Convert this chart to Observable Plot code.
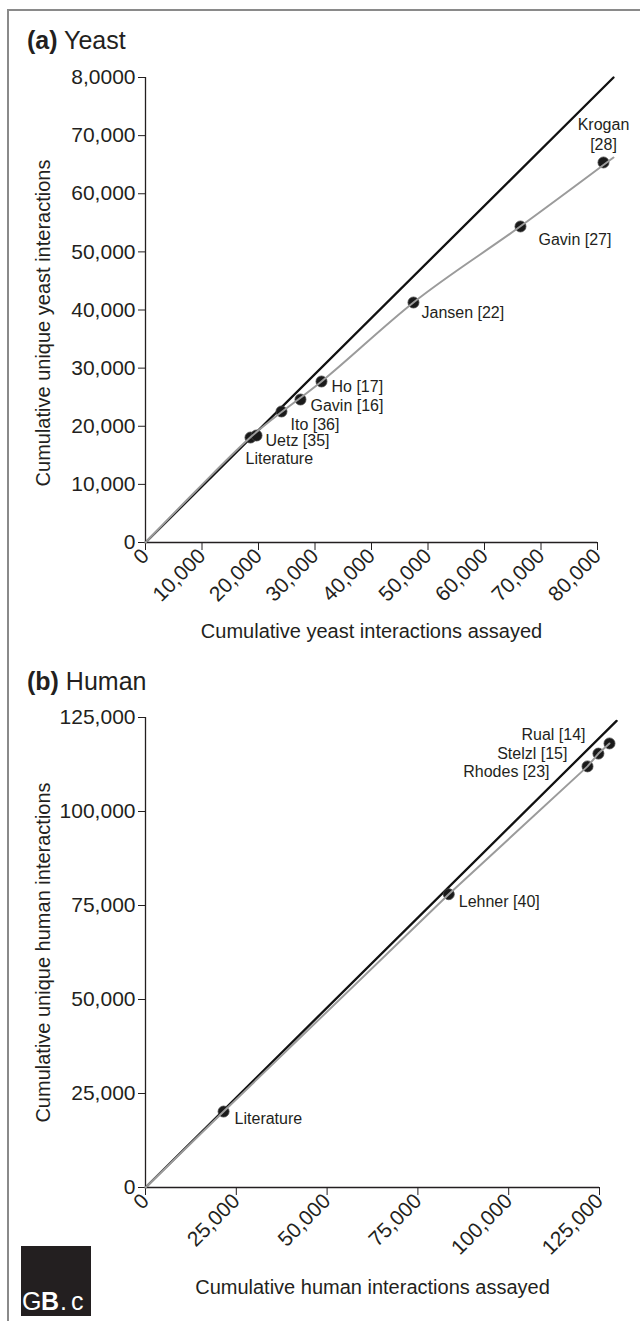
<!DOCTYPE html>
<html><head><meta charset="utf-8">
<script src="https://cdn.jsdelivr.net/npm/d3@7"></script>
<script src="https://cdn.jsdelivr.net/npm/@observablehq/plot@0.6"></script>
<style>
body{margin:0;background:#fff;font-family:"Liberation Sans",Arial,Helvetica,sans-serif;}
#wrap{position:relative;width:640px;height:1321px;overflow:hidden;background:#fff;}
.frameL{position:absolute;left:7px;top:9px;width:2px;height:1320px;background:#8a8a8a}
.frameT{position:absolute;left:7px;top:9px;width:640px;height:2px;background:#8a8a8a}
.title{position:absolute;left:27px;font-size:25px;color:#231f20;line-height:1;white-space:nowrap}
.panel{position:absolute;left:0}
.logo{position:absolute;left:21px;top:1246px;width:70px;height:70px;background:#231f20;overflow:hidden;color:#fff;font-size:25px;line-height:1}
.logo span{position:absolute;bottom:2px;white-space:nowrap}
</style></head><body>
<div id="wrap">
  <div class="frameL"></div><div class="frameT"></div>
  <div class="title" style="top:28px"><b>(a)</b> Yeast</div>
  <div class="title" style="top:669px"><b>(b)</b> Human</div>
  <div class="panel" id="yeast" style="top:0"></div>
  <div class="panel" id="human" style="top:660px"></div>
  <div class="logo"><span style="left:1px">G</span><span style="left:20px;font-weight:bold">B</span><span style="left:39px">.</span><span style="left:50px">c</span></div>
</div>
<script>
// ---------- data ----------
const yeastStudies  = ["Literature","Uetz [35]","Ito [36]","Gavin [16]","Ho [17]","Jansen [22]","Gavin [27]","Krogan\n[28]"];
const yeastAssayed  = [18580, 19650, 24070, 27430, 31150, 47430, 66370, 81060];
const yeastUnique   = [18060, 18410, 22540, 24600, 27700, 41290, 54370, 65380];
const yeastFitAssayed = [0, 9000, 18580, 31150, 47430, 66370, 82830];
const yeastFitUnique  = [0, 8950, 18100, 27700, 41300, 54400, 66240];
const yeastDiagAssayed = [0, 82830];
const yeastDiagUnique  = [0, 80000];
const yeastXTicks = [0,10000,20000,30000,40000,50000,60000,70000,80000];
const yeastXTickLabels = ["0","10,000","20,000","30,000","40,000","50,000","60,000","70,000","80,000"];
const yeastYTicks = [0,10000,20000,30000,40000,50000,60000,70000,80000];
const yeastYTickLabels = ["0","10,000","20,000","30,000","40,000","50,000","60,000","70,000","8,0000"];

const humanStudies  = ["Literature","Lehner [40]","Rhodes [23]","Stelzl [15]","Rual [14]"];
const humanAssayed  = [21500, 83500, 121700, 124700, 127750];
const humanUnique   = [20200, 78000, 112000, 115400, 118100];
const humanFitAssayed = [0, 21500, 83500, 121700, 124700, 127750];
const humanFitUnique  = [0, 20200, 78000, 112000, 115400, 118100];
const humanDiagAssayed = [0, 129700];
const humanDiagUnique  = [0, 124100];
const humanXTicks = [0,25000,50000,75000,100000,125000];
const humanXTickLabels = ["0","25,000","50,000","75,000","100,000","125,000"];
const humanYTicks = [0,25000,50000,75000,100000,125000];
const humanYTickLabels = ["0","25,000","50,000","75,000","100,000","125,000"];

// ---------- layout / style ----------
const INK = "#231f20";
const FONT = '"Liberation Sans", Arial, Helvetica, sans-serif';
const yeastLabelPos = {
  "Literature": {a:"start", dx:-5, dy:20},
  "Uetz [35]": {a:"start", dx:9, dy:4},
  "Ito [36]": {a:"start", dx:9, dy:12},
  "Gavin [16]": {a:"start", dx:10, dy:5},
  "Ho [17]": {a:"start", dx:10, dy:4},
  "Jansen [22]": {a:"start", dx:8, dy:9},
  "Gavin [27]": {a:"start", dx:18, dy:12},
  "Krogan\n[28]": {a:"middle", dx:0, dy:-12, la:"bottom"}
};
const humanLabelPos = {
  "Literature": {a:"start", dx:11, dy:6},
  "Lehner [40]": {a:"start", dx:10, dy:6},
  "Rhodes [23]": {a:"end", dx:-38, dy:4},
  "Stelzl [15]": {a:"end", dx:-31, dy:-1},
  "Rual [14]": {a:"end", dx:-24, dy:-10}
};

function panel(cfg) {
  const idx = a => a.map((_, i) => i);
  const labelMarks = idx(cfg.studies).map(i => {
    const p = cfg.labelPos[cfg.studies[i]];
    return Plot.text([i], {
      x: j => cfg.assayed[j], y: j => cfg.unique[j], text: j => cfg.studies[j],
      textAnchor: p.a, lineAnchor: p.la || "middle", dx: p.dx, dy: p.dy,
      fontSize: 16, lineHeight: 1.25, fill: INK
    });
  });
  return Plot.plot({
    width: 640, height: cfg.height,
    marginLeft: 145, marginRight: cfg.marginRight, marginTop: cfg.marginTop, marginBottom: cfg.marginBottom,
    x: {domain: [0, cfg.max]},
    y: {domain: [0, cfg.max]},
    style: {fontFamily: FONT, color: INK, background: "transparent", overflow: "visible"},
    marks: [
      Plot.axisY({ticks: cfg.yTicks, tickFormat: d => cfg.yLabels[cfg.yTicks.indexOf(d)], tickSize: 7, tickPadding: 3, fontSize: 21, label: null, stroke: INK}),
      Plot.axisX({ticks: cfg.xTicks, tickFormat: d => cfg.xLabels[cfg.xTicks.indexOf(d)], tickSize: 8, tickPadding: 2, tickRotate: -45, fontSize: 21, label: null, stroke: INK}),
      Plot.ruleX([0], {stroke: INK, strokeWidth: 1.3}),
      Plot.ruleY([0], {stroke: INK, strokeWidth: 1.3}),
      Plot.line(idx(cfg.diagX), {x: i => cfg.diagX[i], y: i => cfg.diagY[i], stroke: "#111", strokeWidth: 2.3}),
      Plot.dot(idx(cfg.studies), {x: i => cfg.assayed[i], y: i => cfg.unique[i], r: 5.5, fill: "#1a1a1a", stroke: "#444", strokeWidth: 0.8}),
      Plot.line(idx(cfg.fitX), {x: i => cfg.fitX[i], y: i => cfg.fitY[i], stroke: "#9b9b9b", strokeWidth: 2, curve: cfg.curve}),
      ...labelMarks,
      Plot.text([cfg.xTitle], {frameAnchor: "bottom", dy: cfg.xTitleDy, lineAnchor: "middle", textAnchor: "middle", fontSize: 20, fill: INK}),
      Plot.text([cfg.yTitle], {frameAnchor: "left", rotate: -90, dx: -102, dy: cfg.yTitleDy, lineAnchor: "middle", textAnchor: "middle", fontSize: 20, fill: INK})
    ]
  });
}

document.getElementById("yeast").appendChild(panel({
  height: 660, marginTop: 77, marginBottom: 118, marginRight: 43, max: 80000, curve: "monotone-x",
  studies: yeastStudies, assayed: yeastAssayed, unique: yeastUnique,
  fitX: yeastFitAssayed, fitY: yeastFitUnique, diagX: yeastDiagAssayed, diagY: yeastDiagUnique,
  xTicks: yeastXTicks, xLabels: yeastXTickLabels, yTicks: yeastYTicks, yLabels: yeastYTickLabels,
  labelPos: yeastLabelPos,
  xTitle: "Cumulative yeast interactions assayed", xTitleDy: 89,
  yTitle: "Cumulative unique yeast interactions", yTitleDy: 13
}));
document.getElementById("human").appendChild(panel({
  height: 661, marginTop: 57, marginBottom: 134, marginRight: 41, max: 125000, curve: "linear",
  studies: humanStudies, assayed: humanAssayed, unique: humanUnique,
  fitX: humanFitAssayed, fitY: humanFitUnique, diagX: humanDiagAssayed, diagY: humanDiagUnique,
  xTicks: humanXTicks, xLabels: humanXTickLabels, yTicks: humanYTicks, yLabels: humanYTickLabels,
  labelPos: humanLabelPos,
  xTitle: "Cumulative human interactions assayed", xTitleDy: 100,
  yTitle: "Cumulative unique human interactions", yTitleDy: 0
}));
</script>
</body></html>
